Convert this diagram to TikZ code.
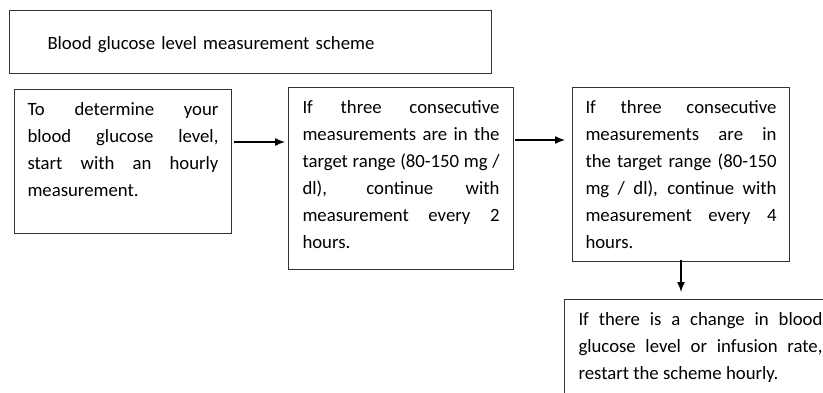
\documentclass[tikz,border=0pt]{standalone}
\usepackage{fontspec}
\setmainfont{Carlito}
\usetikzlibrary{arrows.meta,positioning}
\tikzset{
    schemeBox/.style={
        rectangle,
        draw=black!80,
        line width=1pt,
        anchor=north west,
        inner xsep=13pt,
        inner ysep=7pt,
        font=\fontsize{18.75}{27}\selectfont
    },
    schemeArrow/.style={-{Latex[length=10pt,width=8pt]}, line width=1.4pt, draw=black}
}
\newcommand{\boxtext}[3]{\parbox[t][#2][t]{#1}{\hyphenpenalty=10000\tolerance=9999\strut #3}}

\begin{document}
\begin{tikzpicture}[x=1pt, y=-1pt]
\useasboundingbox (0,0) rectangle (823,393);
\clip (0,0) rectangle (823,393);
\fill[white] (0,0) rectangle (823,393);

% title and the steps of the scheme
\node[schemeBox, inner xsep=38pt, text width=406pt, minimum height=63pt, text height=18pt, text depth=2pt] (title) at (9,10) {Blood glucose level measurement scheme};
\node[schemeBox] (hourly) at (14,89) {\boxtext{191pt}{130pt}{To determine your\linebreak blood glucose level,\linebreak start with an hourly\linebreak measurement.}};
\node[schemeBox, inner xsep=14pt] (twoh) at (288,87) {\boxtext{197pt}{168pt}{If three consecutive\linebreak measurements are in the\linebreak target range (80-150 mg /\linebreak dl), continue with\linebreak measurement every 2\linebreak hours.}};
\node[schemeBox] (fourh) at (572,87) {\boxtext{191pt}{160pt}{If three consecutive\linebreak measurements are in\linebreak the target range (80-150\linebreak mg / dl), continue with\linebreak measurement every 4\linebreak hours.}};
\node[schemeBox, inner xsep=14pt] (restart) at (564,299) {\boxtext{244pt}{126pt}{If there is a change in blood\linebreak glucose level or infusion rate,\linebreak restart the scheme hourly.}};

\draw[schemeArrow, shorten <=2pt, shorten >=3pt] ([yshift=-53pt]hourly.north east) -- ([yshift=-55pt]twoh.north west);
\draw[schemeArrow, shorten <=1pt, shorten >=7pt] ([yshift=-53pt]twoh.north east) -- ([yshift=-53pt]fourh.north west);
\draw[schemeArrow, shorten <=-2pt, shorten >=7pt] (fourh.south) -- (fourh.south |- restart.north);
\end{tikzpicture}
\end{document}
